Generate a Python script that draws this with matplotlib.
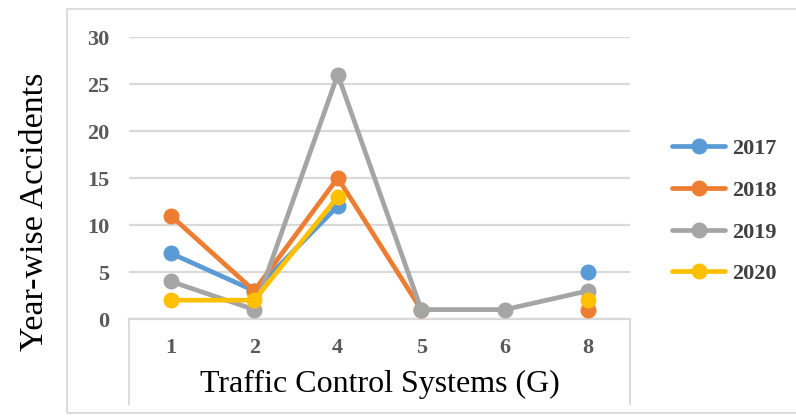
import matplotlib.pyplot as plt
from matplotlib.patches import Rectangle
from matplotlib.lines import Line2D
import numpy as np

categories = ["1", "2", "4", "5", "6", "8"]
series_names = ["2017", "2018", "2019", "2020"]
values_2017 = [7, 3, 12, None, None, 5]
values_2018 = [11, 3, 15, 1, None, 1]
values_2019 = [4, 1, 26, 1, 1, 3]
values_2020 = [2, 2, 13, None, None, 2]
colors = ["#5B9BD5", "#ED7D31", "#A5A5A5", "#FFC000"]
y_ticks = [0, 5, 10, 15, 20, 25, 30]

W, H = 796, 419
fig = plt.figure(figsize=(W / 100, H / 100), dpi=100)

# chart frame
fig.patches.append(Rectangle((67 / W, 1 - 413 / H), (W + 5 - 67) / W, (413 - 9) / H,
                             transform=fig.transFigure, fill=False,
                             edgecolor="#D9D9D9", linewidth=1.3))

left, right, top, bottom = 129, 630, 37, 319
ax = fig.add_axes([left / W, 1 - bottom / H, (right - left) / W, (bottom - top) / H])

serif = "Liberation Serif"
x = np.arange(len(categories))
all_series = [values_2017, values_2018, values_2019, values_2020]
for name, vals, c in zip(series_names, all_series, colors):
    y = np.array([np.nan if v is None else v for v in vals], dtype=float)
    ax.plot(x, y, color=c, linewidth=3.4, marker="o", markersize=10.5,
            label=name, clip_on=False, solid_capstyle="round", zorder=3)

ax.set_xlim(-0.5, len(categories) - 0.5)
ax.set_ylim(0, 30)
ax.set_yticks(y_ticks)
ax.set_xticks(x)
ax.set_xticklabels(categories)
ax.grid(axis="y", color="#D9D9D9", linewidth=1.6, zorder=0)
ax.set_axisbelow(True)
for s in ["top", "right", "left"]:
    ax.spines[s].set_visible(False)
ax.spines["bottom"].set_color("#D9D9D9")
ax.spines["bottom"].set_linewidth(1.6)
ax.tick_params(length=0)
ax.tick_params(axis="x", pad=14)
ax.tick_params(axis="y", pad=14)
for lab in ax.get_xticklabels() + ax.get_yticklabels():
    lab.set_fontfamily(serif)
    lab.set_fontweight("bold")
    lab.set_fontsize(16)
    lab.set_color("#595959")

# side lines of the category-axis area
for xp in (left, right):
    fig.add_artist(Line2D([xp / W, xp / W], [1 - bottom / H, 1 - 404 / H],
                          transform=fig.transFigure, color="#D9D9D9", linewidth=1.3))

fig.text(380 / W, 1 - 392 / H, "Traffic Control Systems (G)", fontfamily=serif,
         fontsize=23, color="black", ha="center", va="baseline")
fig.text(35 / W, 1 - 212 / H, "Year-wise Accidents", fontfamily=serif,
         fontsize=24.5, color="black", ha="center", va="center", rotation=90)

leg = fig.legend(loc="center left", bbox_to_anchor=(672 / W, 1 - 211.5 / H),
                 frameon=False, borderpad=0, borderaxespad=0,
                 handlelength=2.4, handletextpad=0.32, labelspacing=0.95,
                 prop={"family": serif, "weight": "bold", "size": 16})
for t in leg.get_texts():
    t.set_color("#404040")

fig.savefig("out.png", dpi=100)
